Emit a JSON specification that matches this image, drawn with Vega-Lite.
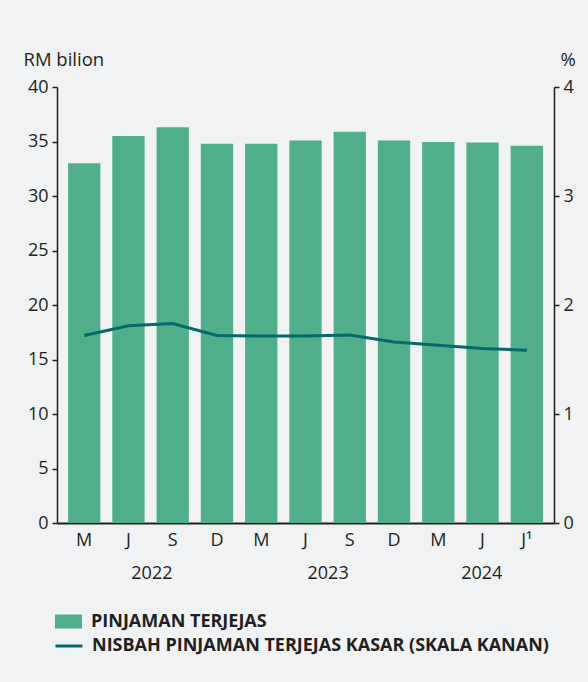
{
  "$schema": "https://vega.github.io/schema/vega-lite/v6.json",
  "autosize": {"type": "none"},
  "width": 497,
  "height": 436,
  "padding": {"left": 57, "top": 87, "right": 34, "bottom": 159},
  "background": "#f1f2f4",
  "config": {
    "font": "Open Sans",
    "view": {"stroke": null},
    "axis": {
      "labelFont": "Open Sans",
      "labelFontSize": 18,
      "labelColor": "#231f20",
      "domainColor": "#231f20",
      "domainWidth": 1.5,
      "tickColor": "#231f20",
      "tickWidth": 1.5,
      "titleColor": "#231f20",
      "titleFont": "Open Sans",
      "titleFontSize": 18.5,
      "titleFontWeight": "normal",
      "grid": false
    }
  },
  "layer": [
    {
      "data": {
        "values": [
          {"k": "2022 M", "pt": 33.0, "r": 1.72},
          {"k": "2022 J", "pt": 35.5, "r": 1.81},
          {"k": "2022 S", "pt": 36.3, "r": 1.83},
          {"k": "2022 D", "pt": 34.8, "r": 1.72},
          {"k": "2023 M", "pt": 34.8, "r": 1.715},
          {"k": "2023 J", "pt": 35.1, "r": 1.715},
          {"k": "2023 S", "pt": 35.9, "r": 1.725},
          {"k": "2023 D", "pt": 35.1, "r": 1.66},
          {"k": "2024 M", "pt": 34.95, "r": 1.63},
          {"k": "2024 J", "pt": 34.9, "r": 1.6},
          {"k": "2024 J¹", "pt": 34.6, "r": 1.585}
        ]
      },
      "encoding": {
        "x": {
          "field": "k",
          "type": "ordinal",
          "sort": null,
          "scale": {"type": "band", "paddingInner": 0.27, "paddingOuter": 0.25},
          "axis": {
            "title": null,
            "labelExpr": "split(datum.value, ' ')[1]",
            "labelAngle": 0,
            "ticks": false,
            "domainWidth": 2,
            "labelPadding": 8
          }
        }
      },
      "layer": [
        {
          "mark": {"type": "bar"},
          "encoding": {
            "y": {
              "field": "pt",
              "type": "quantitative",
              "scale": {"domain": [0, 40]},
              "axis": {
                "orient": "left",
                "values": [0, 5, 10, 15, 20, 25, 30, 35, 40],
                "tickSize": 5,
                "labelPadding": 4,
                "title": "RM bilion",
                "titleAngle": 0,
                "titleAlign": "left",
                "titleBaseline": "middle",
                "titleX": -34,
                "titleY": -28
              }
            },
            "fill": {
              "datum": "PINJAMAN TERJEJAS",
              "scale": {"range": ["#51ae8a"]},
              "legend": {
                "title": null,
                "orient": "none",
                "legendX": -3,
                "legendY": 520,
                "symbolType": "M-1,-0.52H1V0.52H-1Z",
                "symbolSize": 729,
                "symbolOpacity": 1,
                "labelOffset": 8,
                "labelLimit": 0,
                "labelFont": "Open Sans",
                "labelFontSize": 18,
                "labelFontWeight": "bold",
                "labelColor": "#231f20"
              }
            }
          }
        },
        {
          "mark": {"type": "line", "strokeWidth": 3},
          "encoding": {
            "y": {
              "field": "r",
              "type": "quantitative",
              "scale": {"domain": [0, 4]},
              "axis": {
                "orient": "right",
                "values": [0, 1, 2, 3, 4],
                "tickSize": 5,
                "labelPadding": 4,
                "title": "%",
                "titleAngle": 0,
                "titleAlign": "left",
                "titleBaseline": "middle",
                "titleX": 6,
                "titleY": -28
              }
            },
            "stroke": {
              "datum": "NISBAH PINJAMAN TERJEJAS KASAR (SKALA KANAN)",
              "scale": {"range": ["#04696b"]},
              "legend": {
                "title": null,
                "orient": "none",
                "legendX": -3,
                "legendY": 544,
                "symbolType": "stroke",
                "symbolSize": 729,
                "symbolStrokeWidth": 3,
                "labelOffset": 8,
                "labelLimit": 0,
                "labelFont": "Open Sans",
                "labelFontSize": 18,
                "labelFontWeight": "bold",
                "labelColor": "#231f20"
              }
            }
          }
        }
      ],
      "resolve": {"scale": {"y": "independent", "fill": "independent", "stroke": "independent"}}
    },
    {
      "data": {
        "values": [
          {"year": "2022", "pos": 2.1},
          {"year": "2023", "pos": 6.0},
          {"year": "2024", "pos": 9.4}
        ]
      },
      "mark": {"type": "text", "y": "height", "dy": 51, "fontSize": 18, "color": "#231f20", "baseline": "middle", "align": "center"},
      "encoding": {
        "x": {"field": "pos", "type": "quantitative", "scale": {"domain": [0, 11]}, "axis": null},
        "text": {"field": "year"}
      }
    }
  ],
  "resolve": {"scale": {"x": "independent"}}
}
